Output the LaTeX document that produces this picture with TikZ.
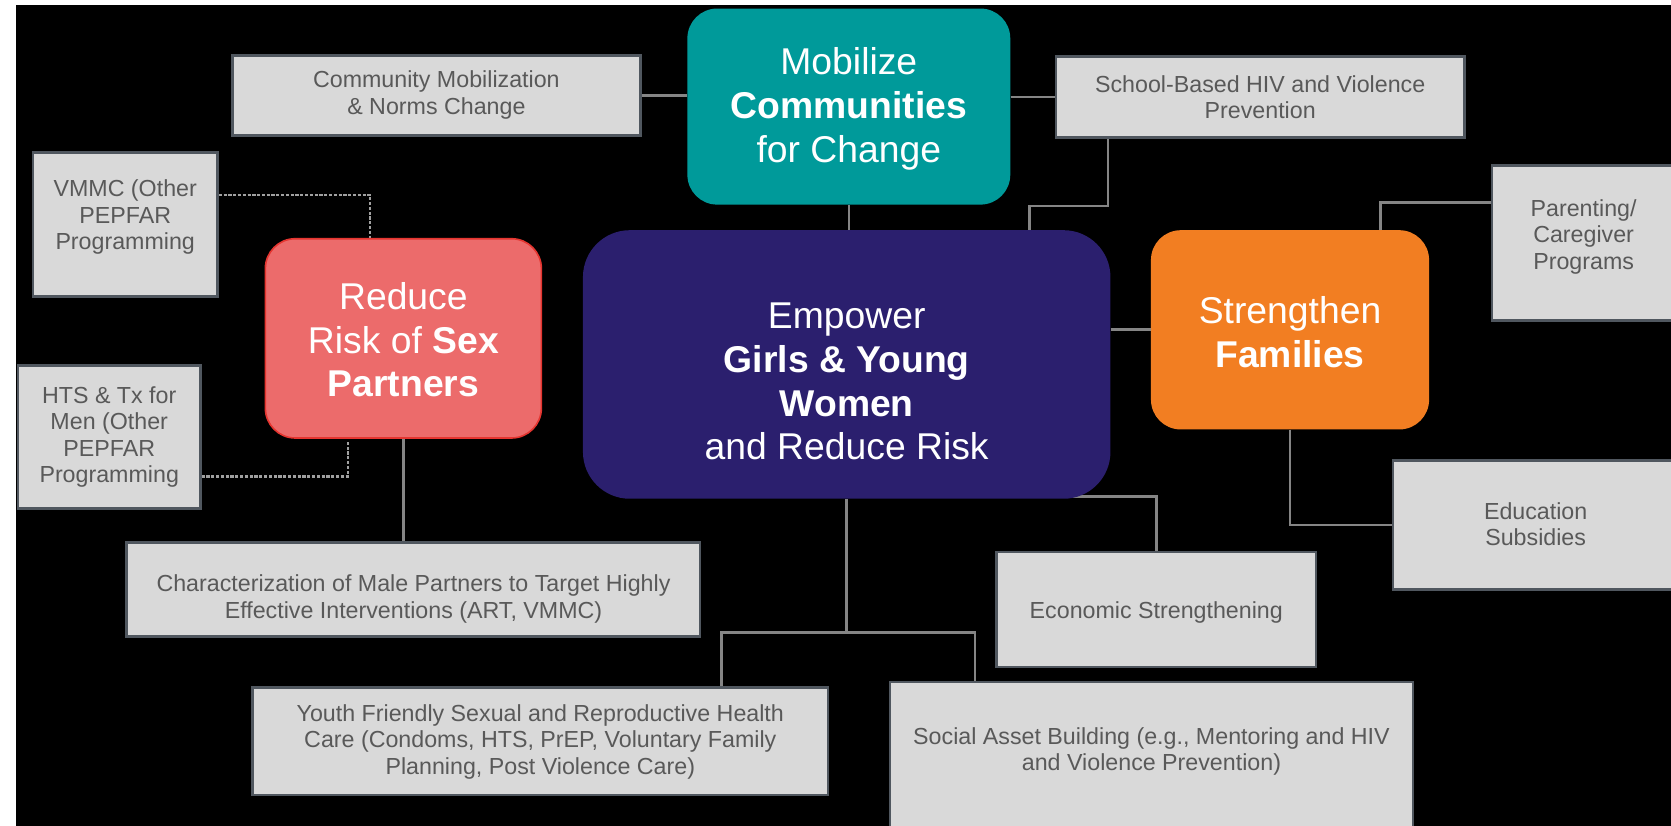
\documentclass[tikz,border=0pt]{standalone}
\usepackage{fontspec}
\setmainfont{Liberation Sans}
\usetikzlibrary{calc}
\pgfdeclarelayer{bg}
\pgfdeclarelayer{lines}
\pgfsetlayers{bg,lines,main}
\definecolor{teal1}{HTML}{009A9A}
\definecolor{navy1}{HTML}{2B1F6E}
\definecolor{salmon1}{HTML}{EC6B6B}
\definecolor{red1}{HTML}{E53530}
\definecolor{orange1}{HTML}{F27E22}
\definecolor{boxfill}{HTML}{D9D9D9}
\definecolor{boxline}{HTML}{50575F}
\definecolor{boxtext}{HTML}{595959}
\definecolor{connc}{HTML}{858585}
\definecolor{dotc}{HTML}{A0A0A0}
\begin{document}
\begin{tikzpicture}[x=1pt,y=-1pt,
  bignode/.style={rounded corners=28pt, text=white, align=center,
    font=\fontsize{35}{41}\selectfont, inner sep=0pt},
  bigtext/.style={text=white, align=center, font=\fontsize{35}{41}\selectfont, inner sep=0pt},
  gbox/.style={draw=boxline, line width=2.5pt, fill=boxfill, inner sep=0pt},
  gtext/.style={text=boxtext, align=center, font=\fontsize{21.8}{24.8}\selectfont, inner sep=0pt},
  conn/.style={draw=connc, line width=2.5pt},
  dconn/.style={draw=dotc, line width=2.2pt, dash pattern=on 3pt off 1.5pt}]

\clip (0,0) rectangle (1568,775);
\begin{pgfonlayer}{bg}
\fill[white] (0,0) rectangle (1568,775);
\fill[black] (15,5) rectangle (1568,775);
\end{pgfonlayer}

% main coloured nodes
\node[bignode, fill=teal1, minimum width=303pt, minimum height=184pt] (mob) at (796.5,100) {};
\node[bigtext] (mobt) at (796.5,102) {Mobilize\\\textbf{Communities}\\for Change};
\node[bignode, rounded corners=44pt, fill=navy1, minimum width=495pt, minimum height=252pt] (emp) at (794.5,342) {};
\node[bigtext] (empt) at (794.5,358)
  {Empower\\\textbf{Girls \& Young}\\\textbf{Women}\\and Reduce Risk};
\node[bignode, fill=salmon1, draw=red1, line width=1.5pt, minimum width=259pt, minimum height=187pt] (red) at (378.5,317.5) {};
\node[bigtext] (redt) at (378.5,319) {Reduce\\Risk of \textbf{Sex}\\\textbf{Partners}};
\node[bignode, fill=orange1, minimum width=261pt, minimum height=187pt] (str) at (1210.5,309.5) {};
\node[bigtext] (strt) at (1210.5,312) {Strengthen\\\textbf{Families}};

% grey boxes
\node[gbox, minimum width=383pt, minimum height=75pt] (comm) at (409.5,89.5) {};
\node[gtext] (commt) at (409.5,89) {Community Mobilization\\\& Norms Change};
\node[gbox, minimum width=383pt, minimum height=76pt] (school) at (1182.5,91) {};
\node[gtext] (schoolt) at (1182.5,91) {School-Based HIV and Violence\\Prevention};
\node[gbox, minimum width=173pt, minimum height=135pt] (vmmc) at (117.5,210.5) {};
\node[gtext] (vmmct) at (117.5,204) {VMMC (Other\\PEPFAR\\Programming};
\node[gbox, minimum width=171pt, minimum height=134pt] (hts) at (102.5,410) {};
\node[gtext] (htst) at (102.5,410) {HTS \& Tx for\\Men (Other\\PEPFAR\\Programming};
\node[gbox, minimum width=175pt, minimum height=146pt] (parent) at (1487.5,228) {};
\node[gtext] (parentt) at (1486,222) {Parenting/\\Caregiver\\Programs};
\node[gbox, minimum width=268pt, minimum height=121pt] (edu) at (1441,492.5) {};
\node[gtext] (edut) at (1441,492) {Education\\Subsidies};
\node[gbox, minimum width=538pt, minimum height=88pt] (char) at (388,553) {};
\node[gtext] (chart) at (388,562) {Characterization of Male Partners to Target Highly\\Effective Interventions (ART, VMMC)};
\node[gbox, minimum width=300pt, minimum height=108pt] (econ) at (1085,572) {};
\node[gtext] (econt) at (1085,575) {Economic Strengthening};
\node[gbox, minimum width=540pt, minimum height=101pt] (youth) at (507,695.5) {};
\node[gtext] (youtht) at (507,696) {Youth Friendly Sexual and Reproductive Health\\Care (Condoms, HTS, PrEP, Voluntary Family\\Planning, Post Violence Care)};
\node[gbox, minimum width=491pt, minimum height=150pt] (social) at (1080.5,715) {};
\node[gtext] (socialt) at (1080.5,705) {Social Asset Building (e.g., Mentoring and HIV\\and Violence Prevention)};

% connectors
\begin{pgfonlayer}{lines}
\draw[conn] (comm.east) -- (comm.east -| mob.west);
\draw[conn] (mob.east |- school.west) -- (school.west);
\draw[conn] ($(school.south west)+(50,0)$) -- ++(0,63) -| ($(emp.north east)+(-76,0)$);
\draw[conn] (mob.south) -- (mob.south |- emp.north);
\draw[conn] ($(red.east)+(0,-20)$) -- ($(red.east)+(0,-20)$ -| emp.west);
\draw[conn] (str.west -| emp.east) -- (str.west);
\draw[conn] ($(str.north east)+(-46,0)$) |- ($(parent.west)+(0,-38)$);
\draw[conn] (str.south) |- (edu.west);
\draw[conn] ($(emp.south)+(0,-2)$) -| (econ.north);
\draw[conn] (emp.south) -- ++(0,125) coordinate (jn);
\draw[conn] ($(youth.north west)+(441,0)$) |- (jn) -| ($(social.north west)+(81,0)$);
\draw[conn] (red.south) -- (red.south |- char.north);
\draw[dconn] ($(vmmc.east)+(0,-27.5)$) -| ($(red.north west)+(99,0)$);
\draw[dconn] ($(hts.east)+(0,37)$) -| ($(red.south west)+(78,3)$);
\end{pgfonlayer}
\end{tikzpicture}
\end{document}
